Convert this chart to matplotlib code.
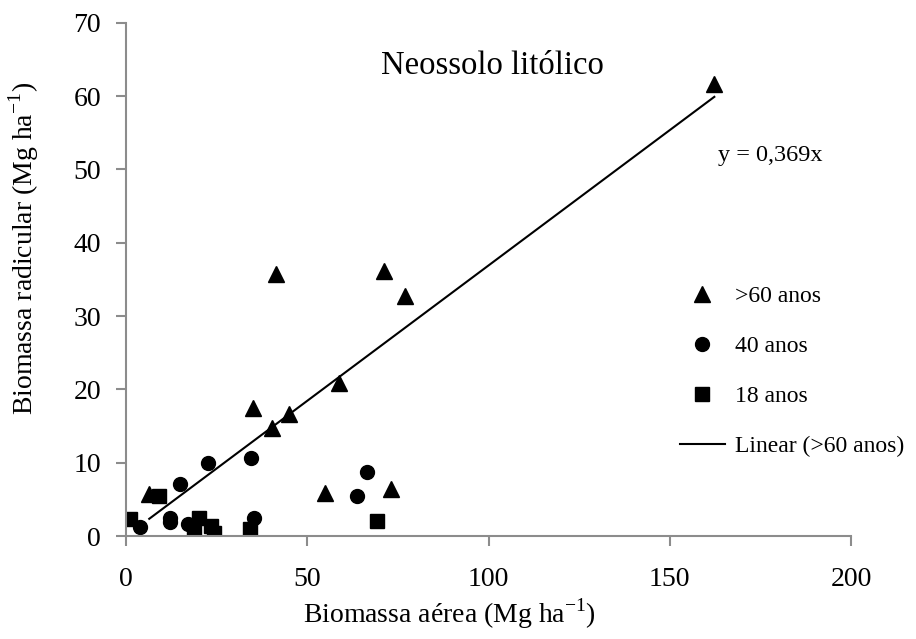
import matplotlib
matplotlib.use("Agg")
from matplotlib import pyplot as plt
import numpy as np

plt.rcParams["font.family"] = ["Liberation Serif", "DejaVu Serif"]
plt.rcParams["mathtext.fontset"] = "custom"
plt.rcParams["mathtext.rm"] = "Liberation Serif"

# >60 anos
old_x = [6.4, 34.9, 40.4, 45.0, 58.8, 54.8, 41.3, 71.2, 76.9, 73.2, 162.3]
old_y = [5.7, 17.5, 14.8, 16.6, 20.9, 5.9, 35.8, 36.2, 32.7, 6.4, 61.7]

# 40 anos
mid_x = [3.9, 15.0, 12.2, 12.2, 17.2, 22.5, 34.6, 35.2, 66.4, 63.8]
mid_y = [1.2, 7.1, 2.5, 1.9, 1.6, 10.0, 10.7, 2.5, 8.7, 5.5]

# 18 anos
young_x = [1.2, 9.2, 20.2, 18.8, 23.4, 24.3, 34.2, 69.3]
young_y = [2.3, 5.5, 2.5, 0.5, 1.4, 0.4, 0.95, 2.1]

slope = 0.369

fig, ax = plt.subplots(figsize=(9.16, 6.39), dpi=100)
fig.subplots_adjust(left=0.1376, right=0.929, bottom=0.161, top=0.9645)

ax.plot(old_x, old_y, "^", color="black", markersize=11, label=">60 anos")
ax.plot(mid_x, mid_y, "o", color="black", markersize=10, label="40 anos")
ax.plot(young_x, young_y, "s", color="black", markersize=10, label="18 anos")

# linear trend through the origin, drawn over the >60 series range
fit_x = np.array([min(old_x), max(old_x)])
ax.plot(fit_x, slope * fit_x, color="black", linewidth=1.5, label="Linear (>60 anos)")

ax.set_xlim(0, 200)
ax.set_ylim(0, 70)
ax.set_xticks([0, 50, 100, 150, 200])
ax.set_yticks(range(0, 80, 10))

for side in ["top", "right"]:
    ax.spines[side].set_visible(False)
for side in ["left", "bottom"]:
    ax.spines[side].set_color("#8c8c8c")
    ax.spines[side].set_linewidth(1.5)
ax.tick_params(direction="out", length=7, width=1.5, color="#8c8c8c", labelsize=20)
ax.tick_params(axis="y", pad=11)
ax.tick_params(axis="x", pad=15)

ax.set_xlabel(r"Biomassa aérea (Mg ha$^{\mathregular{-1}}$)", fontsize=20)
ax.set_ylabel(r"Biomassa radicular (Mg ha$^{\mathregular{-1}}$)", fontsize=20)
ax.xaxis.set_label_coords(0.4455, -0.118)
ax.yaxis.set_label_coords(-0.117, 0.561)

ax.text(0.505, 0.917, "Neossolo litólico", transform=ax.transAxes, fontsize=23.5,
        ha="center", va="center")
ax.text(0.888, 0.742, "y = 0,369x", transform=ax.transAxes, fontsize=17.5,
        ha="center", va="center")

ax.legend(loc="center left", bbox_to_anchor=(0.764, 0.321), frameon=False,
          fontsize=17, handlelength=1.9, handletextpad=0.42, labelspacing=1.2,
          borderpad=0, borderaxespad=0)

plt.savefig("out.png", dpi=100)
